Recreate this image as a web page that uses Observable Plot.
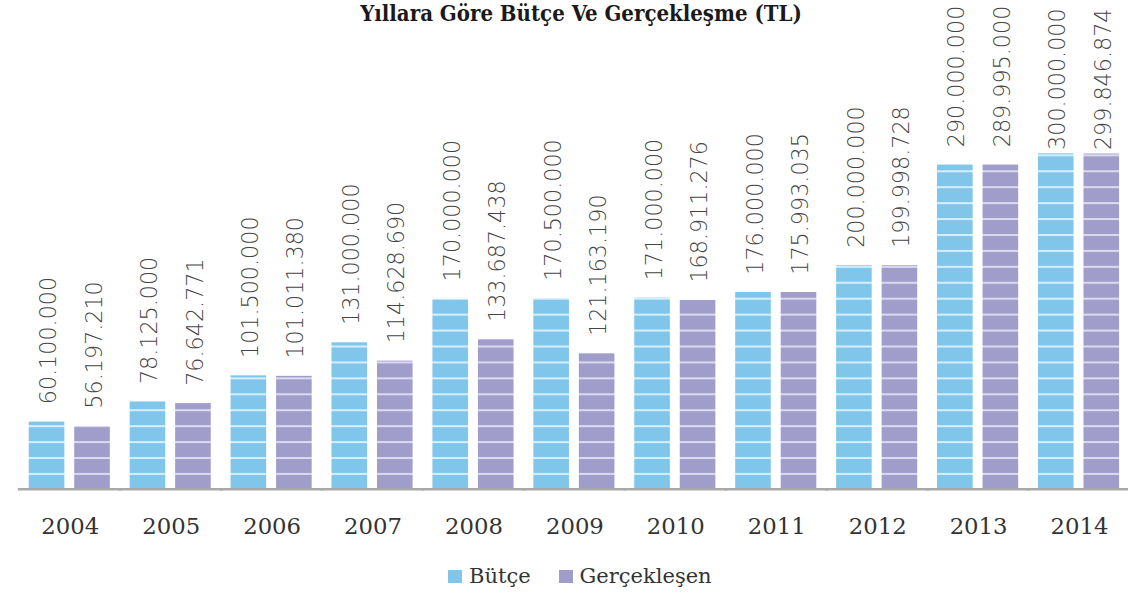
<!DOCTYPE html>
<html><head><meta charset="utf-8">
<script src="https://cdn.jsdelivr.net/npm/d3@7"></script>
<script src="https://cdn.jsdelivr.net/npm/@observablehq/plot@0.6"></script>
<style>
html,body{margin:0;padding:0;background:#fff;overflow:hidden;width:1128px;height:599px}
#wrap{position:relative;width:1128px;height:599px;overflow:hidden;background:#fff}
#chart{position:absolute;left:0;top:0}
#title{position:absolute;top:0px;left:581px;transform:translateX(-50%);white-space:nowrap;font-family:"DejaVu Serif Condensed","DejaVu Serif",serif;font-weight:bold;font-size:22px;line-height:26px;color:#1a1a1a}
#legend{position:absolute;left:448px;top:566px;display:flex;align-items:center;font-family:"DejaVu Serif",serif;font-size:21px;line-height:21px;color:#333}
.sw{width:14px;height:13px;margin-right:7px}
.lab{margin-right:28px}
</style></head>
<body><div id="wrap"><div id="chart"></div><div id="title">Yıllara Göre Bütçe Ve Gerçekleşme (TL)</div><div id="legend"></div></div>
<script>
const years = ["2004","2005","2006","2007","2008","2009","2010","2011","2012","2013","2014"];
const seriesNames = ["Bütçe","Gerçekleşen"];
const butce = [60100000,78125000,101500000,131000000,170000000,170500000,171000000,176000000,200000000,290000000,300000000];
const gerceklesen = [56197210,76642771,101011380,114628690,133687438,121163190,168911276,175993035,199998728,289995000,299846874];
const baseColors = ["#80c6ea","#a19dcb"];
const stripeColors = ["#d6effb","#dcdaf0"];

const rowsB = years.map((y,i)=>({year:y, series:seriesNames[0], value:butce[i]}));
const rowsG = years.map((y,i)=>({year:y, series:seriesNames[1], value:gerceklesen[i]}));
const all = rowsB.concat(rowsG);
const fmt = v => d3.format(",")(v).replace(/,/g,".");
const lastYear = years[years.length - 1];

const W = 1140, H = 560;
const labelStyle = {fx:"year", x:"series", y:"value", text: d => fmt(d.value), rotate:-90, textAnchor:"start", lineAnchor:"middle", dx:2, fontSize:22.5, fontFamily:"DejaVu Sans", fontWeight:200, fill:"#454545"};
const svg = Plot.plot({
  width: W, height: H,
  marginLeft: 25, marginRight: 3, marginTop: 155, marginBottom: H - 494,
  style: {background:"transparent", overflow:"hidden"},
  fx: {domain: years, paddingInner: 0.183, paddingOuter: 0},
  x: {domain: seriesNames, paddingInner: 0.213, paddingOuter: 0, axis: null},
  y: {domain: [0, 300000000], axis: null},
  marks: [
    Plot.barY(rowsB, {fx:"year", x:"series", y:"value", fill:"url(#stripeB)"}),
    Plot.barY(rowsG, {fx:"year", x:"series", y:"value", fill:"url(#stripeG)"}),
    Plot.ruleY([0], {stroke:"#a9a9a9", strokeWidth:2.5, insetLeft:-11, insetRight:-11}),
    Plot.text(all.filter(d => d.year !== lastYear), {...labelStyle, dy:-18}),
    Plot.text(all.filter(d => d.year === lastYear), {...labelStyle, dy:-4}),
    Plot.axisFx({anchor:"bottom", tickSize:0, tickPadding:29, fontSize:23, fontFamily:"DejaVu Serif", fill:"#333", label:null})
  ]
});
const defs = d3.select(svg).insert("defs", ":first-child");
[["stripeB",0],["stripeG",1]].forEach(([id,i])=>{
  const p = defs.append("pattern").attr("id", id).attr("patternUnits","userSpaceOnUse")
    .attr("x",0).attr("y",0).attr("width",10).attr("height",16.1);
  p.append("rect").attr("width",10).attr("height",16.1).attr("fill", baseColors[i]);
  p.append("rect").attr("y",11.1).attr("width",10).attr("height",2).attr("fill", stripeColors[i]);
});
document.getElementById("chart").appendChild(svg);

const legend = d3.select("#legend");
seriesNames.forEach((s,i)=>{
  legend.append("div").attr("class","sw").style("background", baseColors[i]);
  legend.append("div").attr("class","lab").text(s);
});
</script>
</body></html>
